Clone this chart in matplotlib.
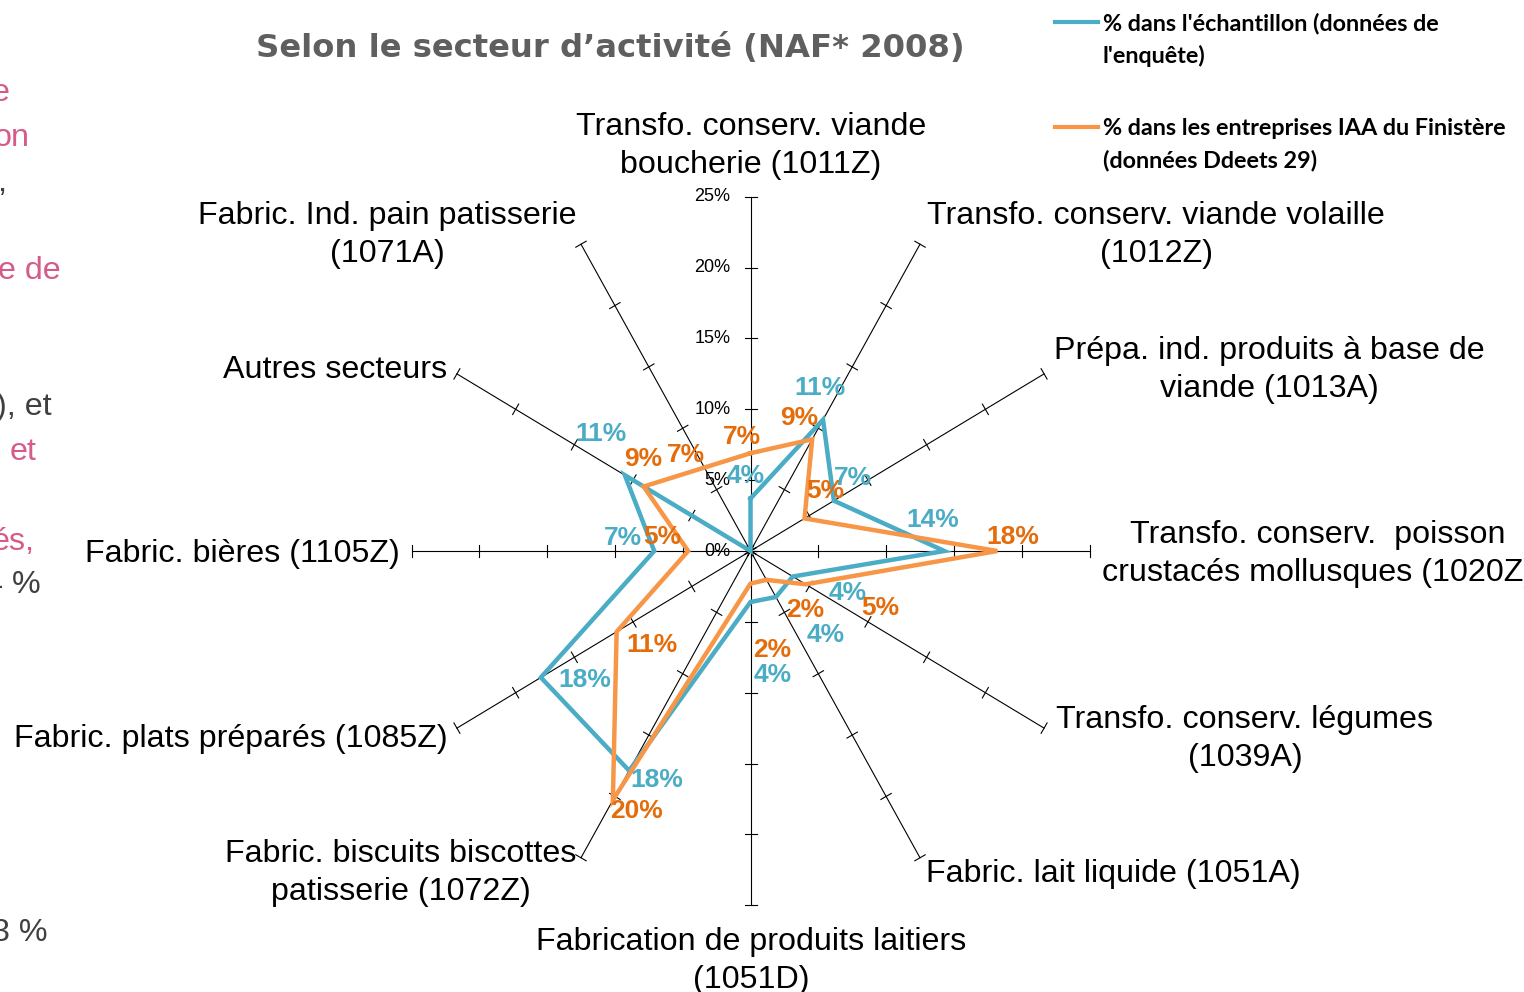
import numpy as np
import matplotlib.pyplot as plt

# Data (% per sector)

categories = [
    "Transfo. conserv. viande\nboucherie (1011Z)",
    "Transfo. conserv. viande volaille\n(1012Z)",
    "Prépa. ind. produits à base de\nviande (1013A)",
    "Transfo. conserv.  poisson\ncrustacés mollusques (1020Z)",
    "Transfo. conserv. légumes\n(1039A)",
    "Fabric. lait liquide (1051A)",
    "Fabrication de produits laitiers\n(1051D)",
    "Fabric. biscuits biscottes\npatisserie (1072Z)",
    "Fabric. plats préparés (1085Z)",
    "Fabric. bières (1105Z)",
    "Autres secteurs",
    "Fabric. Ind. pain patisserie\n(1071A)",
]
echantillon = [3.7, 10.7, 7.1, 14.3, 3.6, 3.75, 3.6, 17.9, 17.85, 7.1, 10.7, 0.0]
finistere = [6.9, 9.1, 4.6, 18.2, 4.7, 2.35, 2.3, 20.3, 11.4, 4.6, 9.1, 6.8]
rticks = [0, 5, 10, 15, 20, 25]
legend_labels = ["% dans l'échantillon (données de\nl'enquête)",
                 "% dans les entreprises IAA du Finistère\n(données Ddeets 29)"]

BLUE = '#4bacc6'
ORANGE = '#f79646'
ORANGE_TXT = '#e46c0a'
W, H = 1524, 992

# label layout (pixels)
cat_pos = [(751, 146), (1156, 235), (1269, 370), (1318, 554), (1245, 739),
           (1113, 874), (751, 961), (401, 873), (231, 739), (242, 554),
           (335, 370), (387, 235)]
blue_off = [(-5, 23), (-3, 32), (19, 23), (-12, 31), (55, -16), (50, -38),
            (22, -73), (28, -9), (44, -3), (-31, 13), (-24, 41), None]
orange_off = [(-9, 16), (-13, 21), (21, 27), (16, 14), (75, -24), (39, -30),
              (22, -66), (24, -11), (35, -13), (-26, 14), (0, 28), (-18, 13)]

fig = plt.figure(figsize=(W / 100, H / 100), dpi=100)

# the source picture is slightly squeezed horizontally: 13.56 px/% in x, 14.17 px/% in y
cx, cy, sx, sy, lim = 750.5, 551, 13.56, 14.17, 27
ax = fig.add_axes([(cx - lim * sx) / W, 1 - (cy + lim * sy) / H,
                   2 * lim * sx / W, 2 * lim * sy / H])
ax.set_xlim(-lim, lim)
ax.set_ylim(-lim, lim)
ax.set_axis_off()

n = len(categories)
theta = np.arange(n) * 2 * np.pi / n


def xy(vals):
    vals = np.asarray(vals)
    return vals * np.sin(theta), vals * np.cos(theta)


# spokes with crossing tick marks
for t in theta:
    ax.plot([0, 25 * np.sin(t)], [0, 25 * np.cos(t)], color='black', lw=0.8,
            clip_on=False, zorder=1)
    for r in rticks:
        x0, y0 = r * np.sin(t), r * np.cos(t)
        dx, dy = 6 * np.cos(t) / sx, -6 * np.sin(t) / sy
        ax.plot([x0 - dx, x0 + dx], [y0 - dy, y0 + dy], color='black', lw=0.8,
                clip_on=False, zorder=1)

for r in rticks:
    ax.annotate(f"{r}%", (0, r), xytext=(-20, 0), textcoords='offset pixels',
                ha='right', va='center', fontsize=13, family='Liberation Sans')

# series
for vals, col, z in [(echantillon, BLUE, 3), (finistere, ORANGE, 4)]:
    x, y = xy(vals)
    ax.plot(np.append(x, x[0]), np.append(y, y[0]), color=col, lw=3.2,
            solid_joinstyle='miter', clip_on=False, zorder=z)

# data labels
for vals, offs, col in [(echantillon, blue_off, BLUE), (finistere, orange_off, ORANGE_TXT)]:
    x, y = xy(vals)
    for i, v in enumerate(vals):
        if offs[i] is None:
            continue
        ax.annotate(f"{int(v + 0.5)}%", (x[i], y[i]), xytext=offs[i],
                    textcoords='offset pixels', ha='center', va='center',
                    fontsize=19, fontweight='bold', color=col,
                    family='Liberation Sans', zorder=6)

# category labels
for lab, (px, py) in zip(categories, cat_pos):
    fig.text(px / W, 1 - py / H, lab, ha='center', va='center',
             multialignment='center', fontsize=23.2, linespacing=1.32,
             family='Liberation Sans')

# title
fig.text(610 / W, 1 - 48 / H, "Selon le secteur d’activité (NAF* 2008)",
         ha='center', va='center', fontsize=23.2, fontweight='bold',
         color='#5f5f5f', family='DejaVu Sans')

# legend
for lab, col, ly in zip(legend_labels, [BLUE, ORANGE], [22, 127]):
    fig.add_artist(plt.Line2D([1055 / W, 1098 / W], [1 - ly / H, 1 - ly / H],
                              color=col, lw=3))
    fig.text(1103 / W, 1 - (ly + 18) / H, lab, ha='left', va='center',
             fontsize=16.8, fontweight='bold', family='Lato', linespacing=1.6)

# fragments of the neighbouring slide text, cut by the left edge
PINK = '#d45b8a'
GREY = '#404040'
fragments = [("e", -8, 93, PINK), ("on", -6, 138, PINK), (",", -3, 183, GREY),
             ("e de", -2, 271, PINK), ("), et", -4, 407, GREY), ("et", 10, 452, PINK),
             ("és,", -8, 542, PINK), ("4 %", -15, 585, GREY), ("3 %", -8, 933, GREY)]
for s, fx, fy, col in fragments:
    fig.text(fx / W, 1 - fy / H, s, ha='left', va='center', fontsize=23.2,
             color=col, family='Liberation Sans')

fig.savefig('out.png', dpi=100)
